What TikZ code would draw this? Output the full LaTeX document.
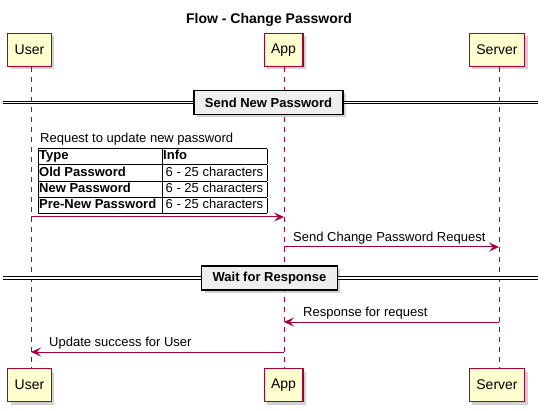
\documentclass[tikz,border=0pt]{standalone}
\usepackage{fontspec}
\setmainfont{Liberation Sans}
\usepackage{xcolor}
\usetikzlibrary{positioning, arrows.meta, shadows}
\definecolor{umlred}{HTML}{A80036}
\definecolor{umlfill}{HTML}{FEFECE}
\definecolor{sepfill}{HTML}{EEEEEE}
\newcommand{\cellgap}{\hspace{2.5pt}}

\begin{document}
\begin{tikzpicture}[x=1pt, y=-1pt,
    actor/.style={draw=umlred, line width=1.1pt, fill=umlfill, minimum height=33pt, inner xsep=7pt,
      font=\fontsize{14}{16}\selectfont, drop shadow={shadow xshift=3pt, shadow yshift=-3pt, fill=black!35}},
    lifeline/.style={draw=umlred, line width=0.8pt, dash pattern=on 5pt off 5pt},
    msg/.style={draw=umlred, line width=1pt, -{Stealth[length=10pt, width=9pt, inset=4pt]}},
    msgtext/.style={font=\fontsize{13}{15}\selectfont, inner sep=0pt},
    sepbox/.style={draw=black, line width=1.6pt, fill=sepfill, minimum height=24pt, inner xsep=11pt,
      font=\bfseries\fontsize{13}{15}\selectfont, drop shadow={shadow xshift=3pt, shadow yshift=-3pt, fill=black!35}},
    sepline/.style={draw=black, double=white, double distance=1.6pt, line width=0.9pt}]
    \useasboundingbox (0,0) rectangle (545,411);
    \node[font=\bfseries\fontsize{14}{16}\selectfont] (title) at (269,20) {Flow - Change Password};
    \node[actor] (user) at (29.5,50) {User};
    \node[actor] (app) at (283.5,50) {App};
    \node[actor] (server) at (497,50) {Server};
    \node[actor] (userb) at (29.5,385) {User};
    \node[actor] (appb) at (283.5,385) {App};
    \node[actor] (serverb) at (497,385) {Server};
    \draw[lifeline] (user.south -| 31,0) -- (userb.north -| 31,0);
    \draw[lifeline] (app.south -| 284,0) -- (appb.north -| 284,0);
    \draw[lifeline] (server.south -| 499,0) -- (serverb.north -| 499,0);
    \coordinate (sep1l) at (3,102.5);
    \coordinate (sep1r) at (538,102.5);
    \node[sepbox] (sep1) at (268.5,102.5) {Send New Password};
    \draw[sepline] (sep1l) -- (sep1.west);
    \draw[sepline] (sep1.east) -- (sep1r);
    \node[msgtext, anchor=base west] (req) at (40,142.5) {Request to update new password};
    \node[anchor=north west, inner sep=0pt] (pwtab) at (38,148) {%
      \fontsize{13}{15.3}\selectfont
      \setlength{\tabcolsep}{1pt}\setlength{\arrayrulewidth}{1pt}%
      \begin{tabular}{|p{122pt}|p{103pt}|}
        \hline
        \textbf{Type} & \textbf{Info} \\ \hline
        \textbf{Old Password} & \cellgap 6 - 25 characters \\ \hline
        \textbf{New Password} & \cellgap 6 - 25 characters \\ \hline
        \textbf{Pre-New Password} & \cellgap 6 - 25 characters \\ \hline
      \end{tabular}};
    \coordinate (u1) at (31,217);
    \coordinate (a1) at (284,217);
    \draw[msg] (u1) -- (a1);
    \node[msgtext, anchor=base west] (sendreq) at (293,241.5) {Send Change Password Request};
    \coordinate (a2) at (284,247);
    \coordinate (s2) at (499,247);
    \draw[msg] (a2) -- (s2);
    \coordinate (sep2l) at (3,278);
    \coordinate (sep2r) at (538,278);
    \node[sepbox] (sep2) at (269.5,278) {Wait for Response};
    \draw[sepline] (sep2l) -- (sep2.west);
    \draw[sepline] (sep2.east) -- (sep2r);
    \node[msgtext, anchor=base west] (resp) at (303,316.5) {Response for request};
    \coordinate (s3) at (499,322);
    \coordinate (a3) at (284,322);
    \draw[msg] (s3) -- (a3);
    \node[msgtext, anchor=base west] (done) at (49,346.5) {Update success for User};
    \coordinate (a4) at (284,352);
    \coordinate (u4) at (31,352);
    \draw[msg] (a4) -- (u4);
\end{tikzpicture}
\end{document}
